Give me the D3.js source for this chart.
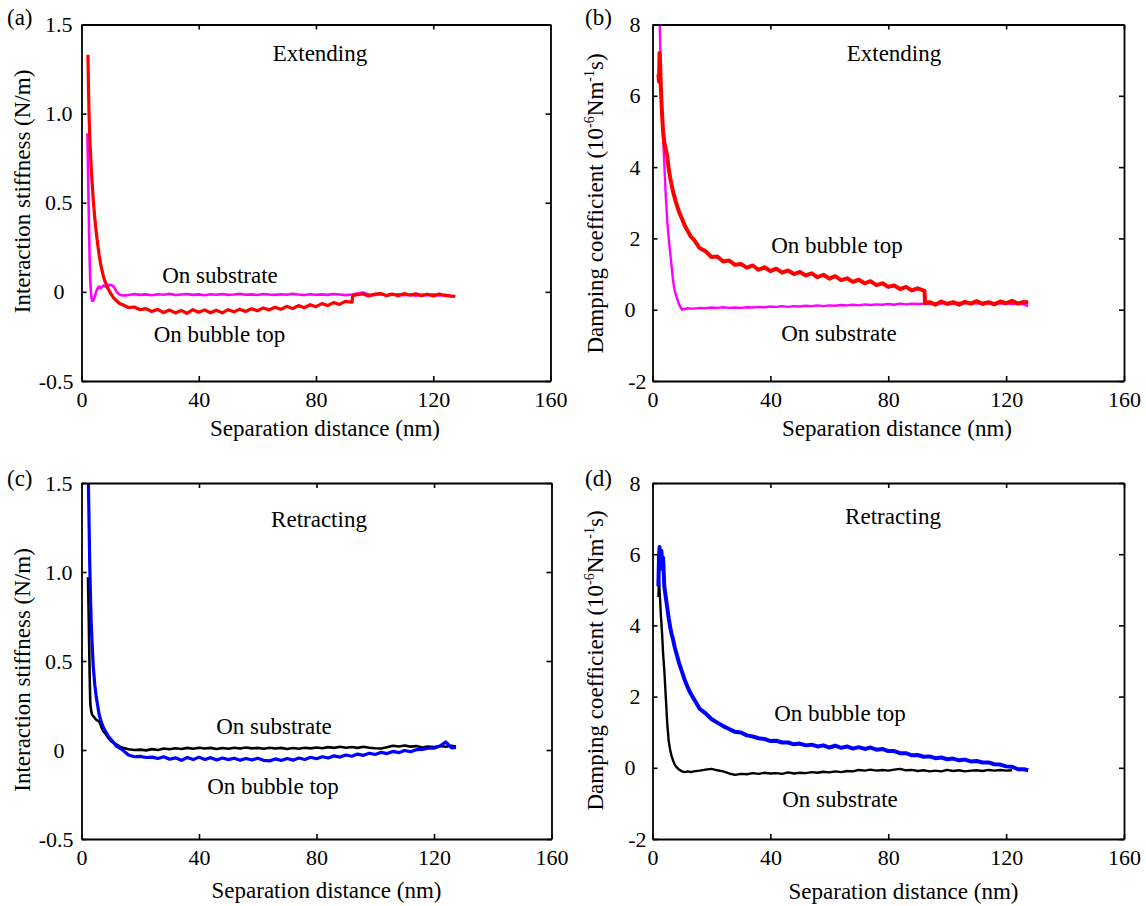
<!DOCTYPE html>
<html>
<head>
<meta charset="utf-8">
<script src="https://cdn.jsdelivr.net/npm/d3@7"></script>
<style>
    body { margin: 0; background: #fff; }
    svg { display: block; font-family: "Liberation Serif", "Tinos", "Nimbus Roman", "Times New Roman", "DejaVu Serif", serif; }
</style>
</head>
<body>
<svg id="canvas" width="1146" height="906"></svg>
<script>
// separation distance (nm) of the extending / retracting records
const extendDist = [
    2.0, 2.2, 2.4, 2.6, 2.8, 3.0, 3.3, 3.6, 4.0, 4.5, 5.0, 5.5, 6.0, 6.5, 7.0, 7.5, 8.0, 9.0, 10, 11, 12, 13,
    14, 16, 18, 20, 22, 24, 26, 28, 30, 32, 34, 36, 38, 40, 42, 44, 46, 48, 50, 52, 54, 56, 58, 60, 62, 64, 66, 68, 70, 72, 74, 76, 78, 80, 82, 84, 86, 88, 90,
    92.3, 92.5,
    94, 96, 98, 100, 102, 104, 106, 108, 110, 112, 114, 116, 118, 120, 122, 124, 126,
    127.5
];
const retractDist = [
    2.0, 2.2, 2.4, 2.6, 2.8, 3.0, 3.3, 3.6, 4.0, 4.5, 5.0, 5.5, 6.0, 6.5, 7.0, 7.5, 8.0, 9.0, 10, 11, 12, 13,
    14, 16, 18, 20, 22, 24, 26, 28, 30, 32, 34, 36, 38, 40, 42, 44, 46, 48, 50,
    52, 54, 56, 58, 60, 62, 64, 66, 68, 70, 72, 74, 76, 78, 80, 82, 84, 86, 88,
    90, 92, 94, 96, 98, 100, 102, 104, 106, 108, 110, 112, 114, 116, 118, 120, 122, 124, 126,
    127.5
];

// (a) interaction stiffness, extending (N/m)
const stiffSubstrateExt = [
    0.89, 0.72, 0.52, 0.33, 0.17, 0.06, -0.02, -0.05, -0.05, -0.03, 0.0, 0.02, 0.03, 0.02, 0.03, 0.035, 0.03, 0.035, 0.04, 0.03, 0.0, -0.015,
    -0.02, -0.018, -0.012, -0.017, -0.014, -0.019, -0.013, -0.016, -0.011, -0.018, -0.015, -0.012, -0.017, -0.014, -0.019, -0.013, -0.016, -0.012, -0.017, -0.015,
    -0.011, -0.016, -0.014, -0.018, -0.012, -0.015, -0.017, -0.013, -0.016, -0.011, -0.015, -0.018, -0.013, -0.016, -0.014, -0.017, -0.012, -0.015, -0.018,
    -0.015, -0.014,
    -0.01, -0.004, -0.015, -0.018, -0.013, -0.02, -0.016, -0.014, -0.019, -0.015, -0.021, -0.016, -0.018, -0.014, -0.02, -0.017, -0.022,
    -0.024
];
const stiffBubbleExt = [
    null, 1.33, 1.13, 0.98, 0.88, 0.8, 0.7, 0.62, 0.52, 0.42, 0.34, 0.27, 0.21, 0.16, 0.12, 0.085, 0.06, 0.02, -0.01, -0.035, -0.05, -0.065,
    -0.072, -0.088, -0.085, -0.1, -0.094, -0.11, -0.098, -0.116, -0.102, -0.118, -0.104, -0.12, -0.1, -0.114, -0.101, -0.117, -0.103, -0.118, -0.1, -0.112,
    -0.097, -0.11, -0.094, -0.106, -0.09, -0.101, -0.086, -0.098, -0.081, -0.094, -0.077, -0.089, -0.072, -0.083, -0.066, -0.077, -0.06, -0.07, -0.053,
    -0.058, -0.022,
    -0.016, -0.012, -0.023, -0.013, -0.009, -0.021, -0.012, -0.022, -0.01, -0.019, -0.011, -0.021, -0.013, -0.023, -0.012, -0.02, -0.024,
    -0.026
];

// (b) damping coefficient, extending (1e-6 N m^-1 s)
const dampSubstrateExt = [
    null, 10.0, 8.2, 7.5, 6.7, 6.0, 5.3, 4.8, 4.1, 3.2, 2.5, 2.0, 1.6, 1.2, 0.8, 0.55, 0.4, 0.15, 0.0, 0.02, 0.04, 0.03,
    0.03, 0.05, 0.04, 0.06, 0.05, 0.07, 0.05, 0.06, 0.05, 0.07, 0.06, 0.08, 0.07, 0.09, 0.08, 0.1, 0.08, 0.1, 0.09, 0.11,
    0.1, 0.12, 0.1, 0.12, 0.11, 0.13, 0.12, 0.14, 0.12, 0.15, 0.13, 0.15, 0.14, 0.16, 0.14, 0.17, 0.15, 0.17, 0.16,
    0.17, 0.17,
    0.16, 0.18, 0.17, 0.19, 0.17, 0.2, 0.18, 0.19, 0.17, 0.2, 0.18, 0.19, 0.17, 0.18, 0.16, 0.17, 0.15,
    0.1
];
const dampBubbleExt = [
    6.6, 6.4, 7.2, 6.9, 6.3, 5.9, 5.4, 5.0, 4.7, 4.5, 4.3, 3.95, 3.7, 3.5, 3.3, 3.15, 3.0, 2.75, 2.55, 2.35, 2.2, 2.05,
    1.97, 1.73, 1.64, 1.48, 1.49, 1.35, 1.38, 1.26, 1.28, 1.18, 1.24, 1.12, 1.19, 1.08, 1.15, 1.04, 1.1, 1.0, 1.06, 0.96,
    1.02, 0.91, 0.98, 0.87, 0.94, 0.83, 0.88, 0.78, 0.84, 0.74, 0.8, 0.69, 0.74, 0.64, 0.68, 0.58, 0.64, 0.54, 0.6,
    0.53, 0.18,
    0.21, 0.14, 0.23, 0.16, 0.21, 0.14, 0.22, 0.17, 0.24, 0.16, 0.21, 0.15, 0.23, 0.18, 0.25, 0.17, 0.22,
    0.2
];

// (c) interaction stiffness, retracting (N/m)
const stiffSubstrateRet = [
    null, 0.97, 0.8, 0.6, 0.4, 0.26, 0.22, 0.2, 0.19, 0.18, 0.17, 0.165, 0.16, 0.14, 0.12, 0.105, 0.095, 0.07, 0.05, 0.04, 0.03, 0.02,
    0.012, 0.004, 0.0, 0.002, -0.002, 0.005, 0.0, 0.008, 0.004, 0.01, 0.006, 0.012, 0.007, 0.013, 0.008, 0.012, 0.006, 0.011, 0.007,
    0.013, 0.008, 0.014, 0.009, 0.012, 0.007, 0.013, 0.008, 0.012, 0.006, 0.011, 0.007, 0.013, 0.009, 0.014, 0.01, 0.016, 0.012, 0.018,
    0.013, 0.017, 0.012, 0.018, 0.013, 0.01, 0.008, 0.015, 0.024, 0.02, 0.025, 0.019, 0.022, 0.014, 0.02, 0.016, 0.022, 0.018, 0.024,
    0.02
];
const stiffBubbleRet = [
    null, 1.7, 1.45, 1.25, 1.05, 0.9, 0.72, 0.6, 0.47, 0.37, 0.3, 0.25, 0.2, 0.17, 0.145, 0.125, 0.11, 0.08, 0.06, 0.04, 0.02, 0.01,
    0.0, -0.028, -0.038, -0.036, -0.042, -0.04, -0.048, -0.038, -0.052, -0.044, -0.058, -0.042, -0.054, -0.04, -0.053, -0.043, -0.056, -0.045, -0.054,
    -0.046, -0.057, -0.048, -0.056, -0.046, -0.058, -0.061, -0.05, -0.059, -0.048, -0.057, -0.045, -0.053, -0.041, -0.049, -0.038, -0.045, -0.033, -0.04,
    -0.028, -0.035, -0.023, -0.03, -0.018, -0.025, -0.013, -0.02, -0.008, -0.015, -0.003, -0.01, 0.002, 0.003, 0.01, 0.01, 0.022, 0.045, 0.012,
    0.014
];

// (d) damping coefficient, retracting (1e-6 N m^-1 s)
const dampSubstrateRet = [
    4.8, 5.3, 5.0, 4.7, 4.35, 4.1, 3.7, 3.2, 2.75, 2.0, 1.25, 0.75, 0.5, 0.32, 0.2, 0.1, 0.03, -0.05, -0.1, -0.12, -0.1, -0.12,
    -0.1, -0.08, -0.05, -0.03, -0.07, -0.1, -0.16, -0.2, -0.17, -0.18, -0.15, -0.17, -0.14, -0.16, -0.15, -0.17, -0.13, -0.16, -0.14,
    -0.15, -0.12, -0.14, -0.11, -0.13, -0.1, -0.12, -0.09, -0.1, -0.06, -0.08, -0.05, -0.08, -0.06, -0.08, -0.05, -0.03, -0.07, -0.06,
    -0.09, -0.07, -0.1, -0.08, -0.1, -0.06, -0.09, -0.07, -0.1, -0.08, -0.07, -0.09, -0.06, -0.08, -0.06, -0.08, -0.07, null, null,
    null
];
const dampBubbleRet = [
    5.1, 5.9, 6.2, 5.7, 5.6, 6.1, 5.8, 5.9, 5.1, 4.8, 4.5, 4.2, 3.95, 3.75, 3.6, 3.4, 3.25, 2.95, 2.7, 2.45, 2.25, 2.08,
    1.94, 1.66, 1.53, 1.37, 1.27, 1.17, 1.09, 1.01, 0.99, 0.91, 0.88, 0.83, 0.81, 0.75, 0.76, 0.71, 0.71, 0.66, 0.68,
    0.63, 0.65, 0.6, 0.63, 0.57, 0.62, 0.56, 0.6, 0.54, 0.58, 0.53, 0.57, 0.51, 0.53, 0.47, 0.47, 0.41, 0.41, 0.35,
    0.36, 0.31, 0.32, 0.27, 0.29, 0.24, 0.26, 0.21, 0.23, 0.18, 0.19, 0.15, 0.15, 0.1, 0.09, 0.04, 0.03, -0.04, -0.04,
    -0.07
];

const xTicks = [0, 40, 80, 120, 160];
const stiffTicks = [-0.5, 0, 0.5, 1.0, 1.5];
const stiffTickLabels = ["-0.5", "0", "0.5", "1.0", "1.5"];
const dampTicks = [-2, 0, 2, 4, 6, 8];
const dampTickLabels = ["-2", "0", "2", "4", "6", "8"];

const canvas = d3.select("#canvas");
const font = "'Liberation Serif', 'Tinos', 'Nimbus Roman', 'Times New Roman', 'DejaVu Serif', serif";

// gap between the box and the right end of each y tick label
const stiffLabelGap = [8, 17, 9, 9, 9];
const dampLabelGap = [6, 17, 12, 12, 12, 12];

const panels = [
    {
        id: "a", label: "(a)", labelX: 7, labelY: 25,
        left: 81.5, right: 550.5, top: 24.5, bottom: 381,
        yDomain: [-0.5, 1.5], yTicks: stiffTicks, yLabels: stiffTickLabels, yGap: stiffLabelGap,
        yTitle: "stiff", titleX: 30, titleY: 191.5, xTitleX: 325, xTitleY: 436,
        dist: extendDist,
        series: [
            { values: stiffSubstrateExt, color: "#ff00ff", width: 2.6 },
            { values: stiffBubbleExt, color: "#ff0000", width: 3.2 }
        ],
        notes: [
            { text: "Extending", x: 320, y: 61 },
            { text: "On substrate", x: 220, y: 283 },
            { text: "On bubble top", x: 219.5, y: 342 }
        ]
    },
    {
        id: "b", label: "(b)", labelX: 585, labelY: 25,
        left: 652.5, right: 1124, top: 24.5, bottom: 381,
        yDomain: [-2, 8], yTicks: dampTicks, yLabels: dampTickLabels, yGap: dampLabelGap,
        yTitle: "damp", titleX: 603, titleY: 203.5, xTitleX: 897, xTitleY: 436,
        dist: extendDist,
        series: [
            { values: dampSubstrateExt, color: "#ff00ff", width: 2.4 },
            { values: dampBubbleExt, color: "#ff0000", width: 4 }
        ],
        notes: [
            { text: "Extending", x: 894, y: 61 },
            { text: "On bubble top", x: 837, y: 253 },
            { text: "On substrate", x: 839, y: 341 }
        ]
    },
    {
        id: "c", label: "(c)", labelX: 7, labelY: 486,
        left: 81.5, right: 551.5, top: 483, bottom: 839,
        yDomain: [-0.5, 1.5], yTicks: stiffTicks, yLabels: stiffTickLabels, yGap: stiffLabelGap,
        yTitle: "stiff", titleX: 30, titleY: 670, xTitleX: 326.5, xTitleY: 898,
        dist: retractDist,
        series: [
            { values: stiffSubstrateRet, color: "#000000", width: 2.6 },
            { values: stiffBubbleRet, color: "#0000ff", width: 3.2 }
        ],
        notes: [
            { text: "Retracting", x: 319, y: 527 },
            { text: "On substrate", x: 274, y: 734 },
            { text: "On bubble top", x: 273, y: 794 }
        ]
    },
    {
        id: "d", label: "(d)", labelX: 585, labelY: 486,
        left: 652.5, right: 1124, top: 483, bottom: 839,
        yDomain: [-2, 8], yTicks: dampTicks, yLabels: dampTickLabels, yGap: dampLabelGap,
        yTitle: "damp", titleX: 603, titleY: 660.5, xTitleX: 903.5, xTitleY: 899,
        dist: retractDist,
        series: [
            { values: dampSubstrateRet, color: "#000000", width: 2.4 },
            { values: dampBubbleRet, color: "#0000ff", width: 4 }
        ],
        notes: [
            { text: "Retracting", x: 893, y: 524 },
            { text: "On bubble top", x: 840, y: 721 },
            { text: "On substrate", x: 840, y: 807 }
        ]
    }
];

const styleAxis = (g) => {
    g.attr("font-family", font).attr("font-size", 22);
    g.select(".domain").attr("stroke", "#000").attr("stroke-width", 1.8);
    g.selectAll(".tick line").attr("stroke", "#000").attr("stroke-width", 1.6);
    g.selectAll(".tick text").attr("fill", "#000");
};

const drawPanel = (p) => {
    const x = d3.scaleLinear().domain([0, 160]).range([p.left, p.right]);
    const y = d3.scaleLinear().domain(p.yDomain).range([p.bottom, p.top]);
    const g = canvas.append("g").attr("class", "panel-" + p.id).attr("font-family", font);

    g.append("clipPath")
        .attr("id", "clip-" + p.id)
        .append("rect")
        .attr("x", p.left)
        .attr("y", p.top)
        .attr("width", p.right - p.left)
        .attr("height", p.bottom - p.top);

    const line = d3
        .line()
        .defined((d) => d[1] !== null)
        .x((d) => x(d[0]))
        .y((d) => y(d[1]));

    p.series.forEach((s) => {
        g.append("path")
            .datum(d3.zip(p.dist, s.values))
            .attr("clip-path", `url(#clip-${p.id})`)
            .attr("fill", "none")
            .attr("stroke", s.color)
            .attr("stroke-width", s.width)
            .attr("stroke-linejoin", "round")
            .attr("d", line);
    });

    // axes on all four sides, ticks pointing in
    g.append("g")
        .attr("transform", `translate(0,${p.bottom})`)
        .call(d3.axisBottom(x).tickValues(xTicks).tickSize(-5).tickSizeOuter(0).tickPadding(10))
        .call(styleAxis);
    g.append("g")
        .attr("transform", `translate(0,${p.top})`)
        .call(d3.axisTop(x).tickValues(xTicks).tickSize(-5).tickSizeOuter(0).tickFormat(() => ""))
        .call(styleAxis);
    g.append("g")
        .attr("transform", `translate(${p.left},0)`)
        .call(
            d3.axisLeft(y).tickValues(p.yTicks).tickSize(-5).tickSizeOuter(0)
                .tickFormat((d, i) => p.yLabels[i])
        )
        .call(styleAxis)
        .call((ax) => ax.selectAll(".tick text").attr("x", (d, i) => -p.yGap[i]));
    g.append("g")
        .attr("transform", `translate(${p.right},0)`)
        .call(d3.axisRight(y).tickValues(p.yTicks).tickSize(-5).tickSizeOuter(0).tickFormat(() => ""))
        .call(styleAxis);

    g.append("text")
        .attr("x", p.labelX)
        .attr("y", p.labelY)
        .attr("font-size", 23)
        .text(p.label);

    g.append("text")
        .attr("x", p.xTitleX)
        .attr("y", p.xTitleY)
        .attr("text-anchor", "middle")
        .attr("font-size", 23)
        .text("Separation distance (nm)");

    const yt = g.append("text")
        .attr("transform", `translate(${p.titleX},${p.titleY}) rotate(-90)`)
        .attr("text-anchor", "middle")
        .attr("font-size", 23);
    if (p.yTitle === "stiff") {
        yt.text("Interaction stiffness (N/m)");
    } else {
        yt.append("tspan").text("Damping coefficient (10");
        yt.append("tspan").attr("dy", -9).attr("font-size", 14).text("-6");
        yt.append("tspan").attr("dy", 9).text("Nm");
        yt.append("tspan").attr("dy", -9).attr("font-size", 14).text("-1");
        yt.append("tspan").attr("dy", 9).text("s)");
    }

    g.selectAll(".note")
        .data(p.notes)
        .enter()
        .append("text")
        .attr("class", "note")
        .attr("x", (d) => d.x)
        .attr("y", (d) => d.y)
        .attr("text-anchor", "middle")
        .attr("font-size", 23)
        .text((d) => d.text);
};

canvas.append("rect").attr("width", 1146).attr("height", 906).attr("fill", "#fff");
panels.forEach(drawPanel);
</script>
</body>
</html>
